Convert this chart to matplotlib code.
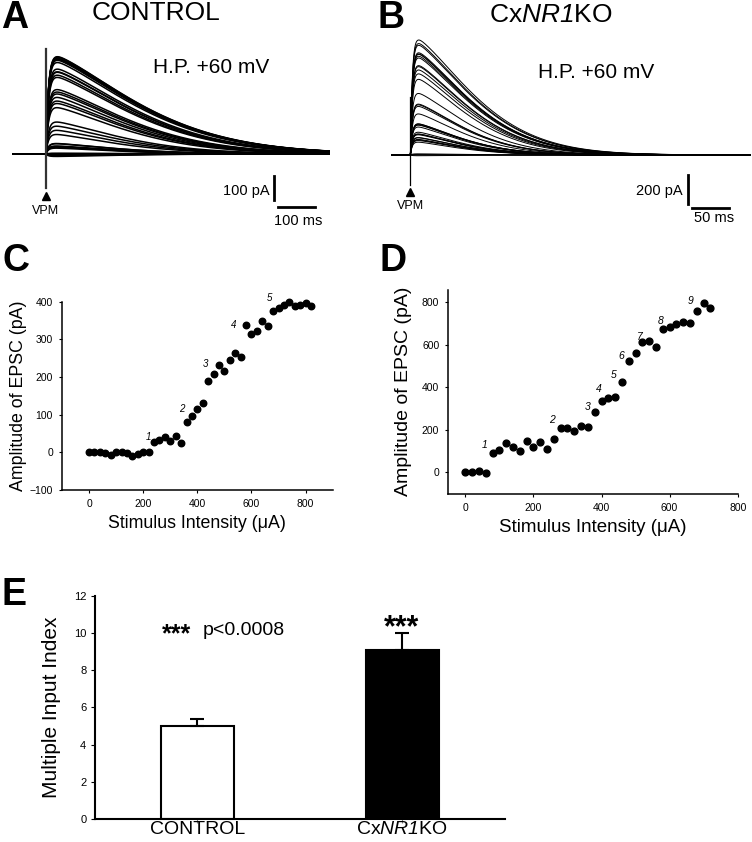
import matplotlib
matplotlib.use('Agg')
import matplotlib.pyplot as plt
import numpy as np

plt.rcParams['font.family'] = 'Liberation Sans'
# math text is only used for the italic gene name NR1
plt.rcParams['mathtext.fontset'] = 'custom'
plt.rcParams['mathtext.rm'] = 'Liberation Sans:italic'
plt.rcParams['mathtext.it'] = 'Liberation Sans:italic'

# ---- data ----
# panel C: control cell, EPSC amplitude (pA) vs stimulus intensity (uA)
stim_ctrl = [0, 20, 40, 60, 80, 100, 120, 140, 160, 180, 200, 220, 240, 260, 280, 300,
             320, 340, 360, 380, 400, 420, 440, 460, 480, 500, 520, 540, 560, 580, 600,
             620, 640, 660, 680, 700, 720, 740, 760, 780, 800, 820]
amp_ctrl = [0, 0, 2, -3, -7, 2, 0, -2, -10, -4, 2, 0, 28, 33, 42, 30, 43, 24, 80, 97,
            114, 131, 190, 207, 232, 217, 246, 264, 254, 337, 314, 323, 348, 335, 375,
            384, 392, 399, 389, 391, 397, 389]
steps_ctrl = ['1', '2', '3', '4', '5']

# panel D: CxNR1KO cell
stim_ko = [0, 20, 40, 60, 80, 100, 120, 140, 160, 180, 200, 220, 240, 260, 280, 300,
           320, 340, 360, 380, 400, 420, 440, 460, 480, 500, 520, 540, 560, 580, 600,
           620, 640, 660, 680, 700, 720]
amp_ko = [0, 3, 8, -5, 89, 104, 140, 119, 100, 146, 121, 144, 108, 158, 207, 210, 194,
          216, 215, 285, 337, 348, 353, 427, 525, 563, 613, 620, 590, 673, 685, 698, 709,
          701, 761, 798, 773]
steps_ko = ['1', '2', '3', '4', '5', '6', '7', '8', '9']

# panel E: multiple input index
groups = ['CONTROL', r'Cx$\mathrm{NR1}$KO']
mii_mean = [5.0, 9.1]
mii_sem = [0.38, 0.9]

W, H = 752, 842
fig = plt.figure(figsize=(W / 100, H / 100), dpi=100)


def rect(l, t, r, b):
    return [l / W, 1 - b / H, (r - l) / W, (b - t) / H]


def ftext(x, y, s, **kw):
    fig.text(x / W, 1 - y / H, s, **kw)


def epsc(t, amp, tau_r, tau_d, p):
    # simple EPSC waveform scaled to the measured peak amplitude
    y = np.zeros_like(t)
    m = t > 0
    y[m] = (1 - np.exp(-t[m] / tau_r)) * np.exp(-(t[m] / tau_d) ** p)
    return amp * y / y.max()


# ---- A: control traces ----
kA = 97.3 / 399  # px per pA
axA = fig.add_axes(rect(11.7, 30, 330, 240))
axA.set_xlim(-93, 774)
axA.set_ylim(-(240 - 154) / kA, (154 - 30) / kA)
axA.axis('off')
t = np.linspace(-93, 774, 1500)
for a in amp_ctrl:
    axA.plot(t, epsc(t, a, 7, 323 * (0.72 + 0.28 * a / 399), 1.45), color='black', lw=1.1)
axA.plot([0, 0], [-139, 430], color='0.2', lw=1.6)
axA.plot([0], [-174], marker='^', color='black', ms=6, clip_on=False)
axA.text(0, -235, 'VPM', ha='center', va='center', fontsize=9)
axA.plot([622, 622], [-90, -190], color='black', lw=2)
axA.plot([633, 733], [-218, -218], color='black', lw=2)
axA.text(609, -150, '100 pA', ha='right', va='center', fontsize=10.5)
axA.text(686, -273, '100 ms', ha='center', va='center', fontsize=10.5)

# ---- B: CxNR1KO traces ----
kB = 115 / 798
axB = fig.add_axes(rect(391, 30, 751, 240))
axB.set_xlim(-26, 456)
axB.set_ylim(-(240 - 155) / kB, (155 - 30) / kB)
axB.axis('off')
t = np.linspace(-26, 456, 1500)
for a in amp_ko:
    axB.plot(t, epsc(t, a, 2.5, 109 * (0.75 + 0.25 * a / 798), 1.46), color='black', lw=0.7)
axB.plot([0, 0], [-208, 405], color='black', lw=0.9)
axB.plot([0], [-257], marker='^', color='black', ms=6, clip_on=False)
axB.text(0, -354, 'VPM', ha='center', va='center', fontsize=9)
axB.plot([371, 371], [-139, -339], color='black', lw=2)
axB.plot([377, 427], [-370, -370], color='black', lw=2)
axB.text(364, -248, '200 pA', ha='right', va='center', fontsize=10.5)
axB.text(406, -440, '50 ms', ha='center', va='center', fontsize=10.5)

ftext(1, 28, 'A', fontsize=27, fontweight='bold')
ftext(378, 28, 'B', fontsize=27, fontweight='bold')
ftext(92, 20.5, 'CONTROL', fontsize=19)
ftext(489, 22.5, r'Cx$\mathrm{NR1}$KO', fontsize=19)
ftext(153, 72.7, 'H.P. +60 mV', fontsize=15)
ftext(538, 78.3, 'H.P. +60 mV', fontsize=15)


def style_xy(ax, lw=1.1):
    for s in ['top', 'right']:
        ax.spines[s].set_visible(False)
    for s in ['left', 'bottom']:
        ax.spines[s].set_linewidth(lw)
    ax.tick_params(direction='out', length=2.5, width=0.8, labelsize=7.5, pad=4)


# ---- C ----
axC = fig.add_axes(rect(62, 301.7, 332.7, 490))
axC.scatter(stim_ctrl, amp_ctrl, s=22, color='black', zorder=3, clip_on=False)
axC.set_xlim(-100, 900)
axC.set_ylim(-100, 400)
axC.set_xticks([0, 200, 400, 600, 800])
axC.set_yticks([-100, 0, 100, 200, 300, 400])
style_xy(axC)
for s, x, y in zip(steps_ctrl, [218, 341, 430, 533, 666], [40, 115, 234, 339, 411]):
    axC.text(x, y, s, fontsize=7, style='italic', ha='center', va='center')
axC.set_ylabel('Amplitude of EPSC (pA)', fontsize=12.8, va='center')
axC.yaxis.set_label_coords((19 - 62) / (332.7 - 62), 0.5)
axC.set_xlabel('Stimulus Intensity (\u03bcA)', fontsize=12.8, va='center')
axC.xaxis.set_label_coords(0.5, (490 - 524) / (490 - 301.7))

# ---- D ----
axD = fig.add_axes(rect(448.3, 289.5, 737.7, 493.6))
axD.scatter(stim_ko, amp_ko, s=24, color='black', zorder=3, clip_on=False)
axD.set_xlim(-50, 800)
axD.set_ylim(-100, 860)
axD.set_xticks([0, 200, 400, 600, 800])
axD.set_yticks([0, 200, 400, 600, 800])
style_xy(axD)
for s, x, y in zip(steps_ko, [57, 255, 360, 392, 435, 459, 511, 573, 660],
                   [129, 246, 306, 391, 458, 547, 635, 714, 808]):
    axD.text(x, y, s, fontsize=7.5, style='italic', ha='center', va='center')
axD.set_ylabel('Amplitude of EPSC (pA)', fontsize=14, va='center')
axD.yaxis.set_label_coords((403.5 - 448.3) / (737.7 - 448.3), 0.5)
axD.set_xlabel('Stimulus Intensity (\u03bcA)', fontsize=13.5, va='center')
axD.xaxis.set_label_coords(0.5, (493.6 - 527) / (493.6 - 289.5))

ftext(3, 271, 'C', fontsize=27, fontweight='bold')
ftext(380, 271, 'D', fontsize=27, fontweight='bold')

# ---- E ----
axE = fig.add_axes(rect(94.7, 595.7, 505, 819))
axE.bar([0, 1], mii_mean, width=0.355, color=['white', 'black'], edgecolor='black',
        linewidth=1.5, zorder=2)
axE.errorbar([0, 1], mii_mean, yerr=[[0, 0], mii_sem], fmt='none', ecolor='black',
             elinewidth=1.5, capsize=4.7, capthick=1.5, zorder=3)
axE.set_xlim(-0.5, 1.5)
axE.set_ylim(0, 12)
axE.set_yticks([0, 2, 4, 6, 8, 10, 12])
axE.set_xticks([0, 1])
axE.set_xticklabels(groups, fontsize=14)
for s in ['top', 'right']:
    axE.spines[s].set_visible(False)
for s in ['left', 'bottom']:
    axE.spines[s].set_linewidth(1.5)
axE.tick_params(axis='y', direction='out', length=3, width=0.8, labelsize=8, pad=3)
axE.tick_params(axis='x', direction='out', length=3, width=0.8, color='0.5', pad=-1.5)
axE.set_ylabel('Multiple Input Index', fontsize=15, va='center')
axE.yaxis.set_label_coords((52 - 94.7) / (505 - 94.7), 0.5)

ftext(162, 641, '***', fontsize=18, fontweight='bold')
ftext(203, 635, 'p<0.0008', fontsize=14)
ftext(402, 636, '***', fontsize=22, fontweight='bold', ha='center')
ftext(2, 605, 'E', fontsize=27, fontweight='bold')

fig.savefig('out.png', dpi=100)
